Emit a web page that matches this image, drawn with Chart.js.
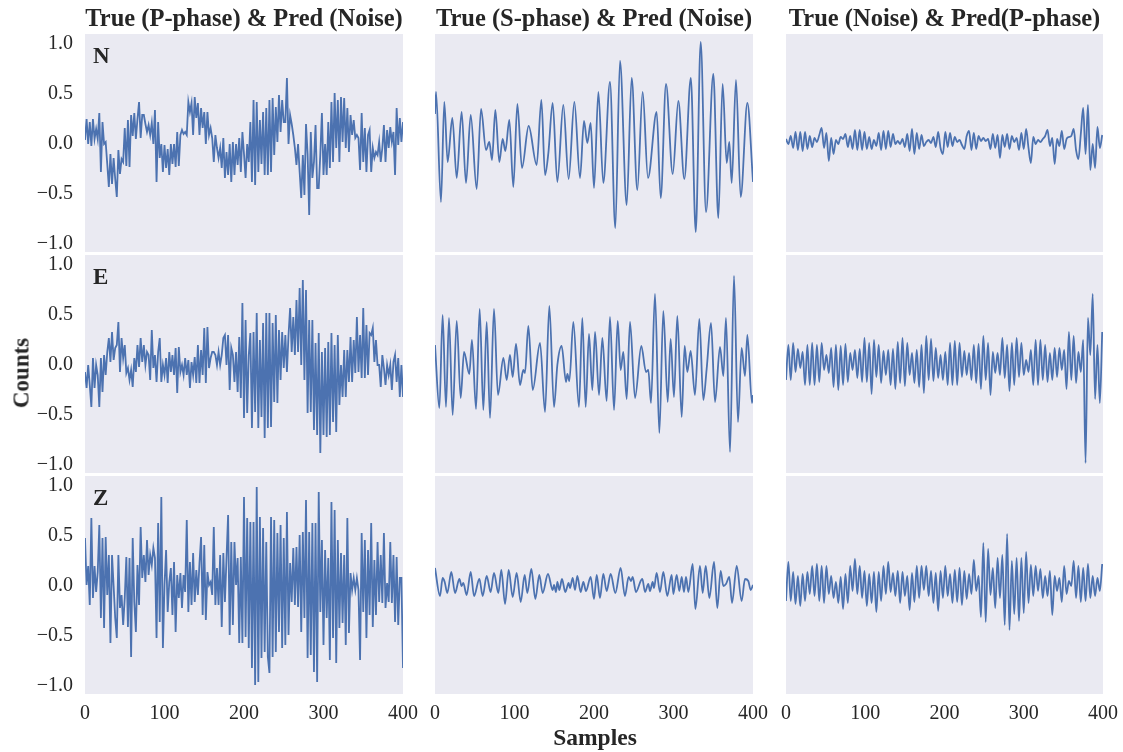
<!DOCTYPE html>
<html>
<head>
<meta charset="utf-8">
<script src="https://cdn.jsdelivr.net/npm/chart.js@4.4.1/dist/chart.umd.min.js"></script>
<style>
  body { margin: 0; background: #fff; width: 1123px; height: 752px; position: relative; overflow: hidden;
         font-family: "Liberation Serif", "DejaVu Serif", serif; color: #262626; }
  .panel { position: absolute; }
  .panel canvas { display: block; }
  .txt { position: absolute; font-weight: bold; line-height: 1; white-space: nowrap; }
  .title { font-size: 24.5px; text-align: center; top: 6px; }
  .tag { font-size: 23px; }
</style>
</head>
<body>
<div class="txt title" style="left:85px;width:318px;">True (P-phase) &amp; Pred (Noise)</div>
<div class="txt title" style="left:435px;width:318px;">True (S-phase) &amp; Pred (Noise)</div>
<div class="txt title" style="left:786px;width:317px;">True (Noise) &amp; Pred(P-phase)</div>
<div class="txt tag" style="left:93px;top:44px;">N</div>
<div class="txt tag" style="left:93px;top:265px;">E</div>
<div class="txt tag" style="left:93px;top:486px;">Z</div>
<div class="txt" style="left:21px;top:373px;font-size:23px;transform:translate(-50%,-50%) rotate(-90deg);">Counts</div>
<div class="txt" style="left:595px;top:738px;font-size:23.5px;transform:translate(-50%,-50%);">Samples</div>

<script>
// axis ticks
const xTicks = [0, 100, 200, 300, 400];
const yTicks = [-1.0, -0.5, 0.0, 0.5, 1.0];
const yMin = -1.08, yMax = 1.1;

// column 1: true P-phase, values every 2 samples (0..400)
const pN = [
  0.04, 0.25, 0.0, 0.22, -0.02, 0.25, 0.05, 0.15, 0.05, 0.31,
  -0.28, 0.22, 0.0, 0.02, -0.2, -0.43, -0.1, -0.4, -0.14, -0.35,
  -0.53, -0.06, -0.3, -0.15, -0.18, 0.16, -0.22, 0.24, -0.23, 0.29,
  0.08, 0.31, 0.05, 0.25, 0.42, 0.06, 0.29, 0.29, 0.2, 0.12,
  0.19, 0.09, 0.21, 0.0, 0.34, -0.38, 0.22, -0.14, 0.0, -0.28,
  -0.01, -0.24, -0.05, -0.31, 0.0, -0.2, 0.0, -0.23, 0.12, -0.22,
  0.09, 0.14, 0.1, 0.12, 0.09, 0.42, 0.32, 0.41, 0.09, 0.47,
  0.26, 0.41, 0.09, 0.36, 0.16, 0.32, 0.0, 0.32, 0.09, 0.16,
  0.06, -0.18, 0.09, -0.04, -0.14, -0.04, -0.24, 0.06, -0.34, -0.08,
  -0.31, 0.0, -0.38, 0.02, -0.31, 0.0, -0.21, 0.06, -0.28, 0.12,
  -0.1, -0.34, 0.0, -0.18, 0.22, -0.38, 0.44, -0.41, 0.42, -0.28,
  0.24, -0.2, 0.32, -0.31, 0.36, -0.31, 0.44, -0.28, 0.46, -0.11,
  0.37, 0.02, 0.49, 0.12, 0.44, 0.22, 0.22, 0.66, 0.0, 0.29,
  0.2, 0.09, -0.04, -0.21, 0.0, -0.28, -0.54, -0.11, -0.51, 0.2,
  -0.1, -0.71, 0.12, -0.34, -0.18, 0.19, -0.44, -0.44, -0.1, 0.31,
  -0.31, 0.0, -0.31, 0.22, -0.24, 0.42, -0.18, 0.51, -0.04, 0.44,
  -0.18, 0.47, 0.02, 0.46, -0.04, 0.36, -0.08, 0.29, 0.09, 0.24,
  0.06, 0.09, 0.06, -0.26, 0.31, -0.18, 0.16, -0.28, 0.09, 0.14,
  -0.28, -0.04, -0.14, -0.08, -0.11, 0.02, -0.18, -0.04, 0.19, -0.18,
  0.14, -0.04, 0.17, 0.02, 0.12, -0.31, 0.36, -0.01, 0.26, 0.02,
  0.22
];
const pE = [
  -0.07, -0.23, 0.0, -0.2, -0.42, 0.07, -0.23, 0.0, -0.1, -0.42,
  0.07, -0.27, 0.1, -0.1, 0.13, 0.27, 0.03, 0.33, 0.05, 0.17,
  0.2, 0.43, -0.07, 0.27, 0.07, 0.2, -0.08, -0.03, -0.15, -0.05,
  -0.22, 0.07, -0.07, 0.2, -0.02, 0.27, 0.03, 0.2, 0.0, 0.13,
  0.1, -0.15, 0.35, -0.03, 0.1, -0.17, 0.13, 0.27, -0.17, 0.0,
  -0.1, 0.07, -0.18, 0.13, -0.07, 0.1, -0.1, 0.17, -0.28, 0.18,
  -0.07, 0.0, -0.1, 0.07, -0.1, 0.05, -0.23, 0.03, -0.1, 0.08,
  -0.18, 0.2, -0.18, 0.15, -0.1, 0.37, -0.18, 0.38, -0.03, 0.07,
  0.13, 0.13, 0.1, 0.0, 0.13, 0.0, 0.1, 0.27, 0.3, 0.0,
  0.3, -0.25, 0.17, 0.1, -0.17, 0.13, -0.27, 0.28, -0.33, 0.62,
  -0.53, 0.45, -0.48, 0.1, 0.32, -0.63, 0.33, -0.47, 0.52, -0.63,
  0.25, -0.52, 0.42, -0.73, 0.52, -0.63, 0.52, -0.62, 0.42, -0.37,
  0.5, -0.38, 0.35, -0.15, 0.33, -0.03, 0.3, -0.07, 0.3, 0.57,
  0.13, 0.48, 0.1, 0.65, 0.13, 0.77, 0.0, 0.85, -0.15, 0.75,
  -0.48, 0.45, -0.47, 0.45, -0.65, 0.22, -0.7, 0.32, -0.88, 0.13,
  -0.7, 0.17, -0.72, 0.23, -0.7, 0.32, -0.57, 0.2, -0.67, 0.3,
  -0.4, 0.0, -0.32, 0.15, -0.32, 0.15, -0.17, 0.28, -0.17, 0.25,
  -0.08, 0.48, -0.07, 0.3, -0.13, 0.57, -0.13, 0.4, -0.1, 0.32,
  0.3, 0.37, 0.03, 0.25, 0.0, 0.0, -0.22, 0.1, -0.03, -0.2,
  0.0, -0.1, 0.0, -0.25, 0.03, 0.1, -0.17, 0.07, -0.32, 0.0,
  -0.32
];
const pZ = [
  0.48, 0.01, 0.2, -0.19, 0.68, -0.12, 0.2, -0.06, 0.14, 0.61,
  -0.32, 0.48, -0.42, 0.49, -0.09, 0.31, -0.57, 0.31, 0.0, -0.32,
  -0.52, 0.31, -0.22, -0.09, -0.39, -0.12, 0.29, -0.41, 0.28, -0.71,
  0.48, -0.16, -0.46, 0.21, -0.19, 0.59, 0.08, 0.31, 0.04, 0.46,
  0.11, 0.31, 0.21, 0.38, 0.28, -0.52, 0.63, -0.36, 0.89, -0.62,
  0.01, 0.36, -0.26, 0.04, 0.18, -0.29, 0.24, -0.46, 0.11, -0.12,
  0.13, -0.22, 0.11, -0.06, 0.66, -0.26, 0.24, -0.19, 0.33, -0.16,
  0.16, -0.09, 0.23, 0.49, -0.29, 0.41, -0.34, 0.14, 0.01, 0.04,
  -0.09, 0.59, -0.19, 0.18, -0.19, 0.31, -0.41, 0.33, -0.16, 0.28,
  0.71, -0.49, 0.44, -0.39, 0.44, 0.01, 0.28, -0.57, 0.29, -0.57,
  0.89, -0.51, 0.68, -0.62, 0.64, -0.82, 0.64, -0.99, 0.99, -0.96,
  0.69, -0.72, 0.58, -0.66, 0.44, -0.71, -0.87, 0.69, -0.71, 0.66,
  -0.66, 0.53, -0.46, 0.61, -0.62, 0.48, -0.59, 0.74, -0.49, 0.23,
  -0.16, 0.38, -0.19, 0.39, -0.21, 0.51, -0.46, 0.54, -0.32, 0.86,
  -0.72, 0.54, -0.69, 0.63, -0.86, 0.63, -0.96, 0.94, -0.26, 0.46,
  -0.59, 0.36, -0.32, 0.28, -0.74, 0.84, -0.52, 0.76, -0.77, 0.46,
  -0.42, 0.33, -0.37, 0.31, -0.59, 0.68, -0.47, 0.13, -0.04, 0.08,
  -0.04, 0.08, -0.04, -0.74, 0.53, -0.26, 0.46, -0.52, 0.36, -0.29,
  0.63, -0.41, 0.26, -0.29, 0.44, -0.16, 0.31, -0.17, 0.53, -0.22,
  0.03, -0.16, 0.44, -0.17, 0.31, -0.36, 0.29, -0.39, 0.08, 0.08,
  -0.82
];

// column 2: true S-phase, turning points (sample, value)
const sNx = [0, 1.3, 7.5, 11.7, 15.9, 21.8, 27.3, 33.5, 39, 44.9, 52.4, 57.9, 64.2, 68.3, 71.7, 75.9, 80.9,
  85.1, 88.5, 93.5, 98.5, 103.6, 109.4, 117.8, 127.9, 133.8, 138.4, 142.6, 148, 153.9, 161.4, 168.1, 175.3,
  182.4, 187.4, 191.6, 195.8, 200, 205.5, 211.7, 220.1, 226.8, 232.7, 241.1, 247.4, 254.5, 261.2, 267.9,
  278.8, 283.9, 290.6, 299, 306.1, 313.6, 321.8, 328, 334.2, 340.9, 350.1, 356.4, 361.8, 366.9, 370.2,
  373.2, 378.6, 384.5, 392.9, 400];
const sNy = [0.3, 0.52, -0.58, 0.42, -0.18, 0.26, -0.34, 0.32, -0.39, 0.29, -0.45, 0.35, -0.06, 0.02, -0.16,
  0.34, -0.18, 0.05, -0.07, 0.24, -0.43, 0.4, -0.24, 0.18, -0.21, 0.44, -0.31, -0.09, 0.41, -0.38, 0.39,
  -0.35, 0.42, -0.34, 0.23, 0.01, 0.21, -0.44, 0.52, -0.39, 0.62, -0.84, 0.83, -0.61, 0.66, -0.46, 0.52,
  -0.34, 0.32, -0.54, 0.6, -0.3, 0.43, -0.35, 0.66, -0.88, 1.02, -0.68, 0.7, -0.74, 0.6, -0.19, 0.02,
  -0.39, 0.64, -0.53, 0.41, -0.38];
const sEx = [0, 5.5, 9.6, 13.8, 17.6, 22.2, 27.3, 32.3, 36.5, 43.2, 46.5, 51.6, 56.2, 60.8, 65, 69.2, 74.2,
  79.2, 86, 90.2, 94.3, 97.7, 101.9, 106.9, 111.1, 113.2, 117.4, 122.9, 132.1, 138.4, 143.8, 149.7, 153.9,
  159.3, 164.8, 166.5, 169, 174, 181.1, 185.3, 189.5, 193.7, 197.9, 201.3, 206.3, 210.5, 215.9, 220.1,
  225.2, 229.8, 233.5, 236.9, 241.1, 245.3, 251.6, 259.5, 265.4, 268.3, 271.7, 276.7, 282.2, 287.2, 292.7,
  296.4, 300.6, 304.8, 310.3, 314, 317.4, 321.6, 327, 332.5, 337.5, 341.7, 347.2, 352.2, 358.5, 362.7, 366,
  371.1, 376.1, 381.1, 385.7, 389.9, 392.9, 398.7, 400];
const sEy = [0.2, -0.43, 0.5, -0.42, 0.47, -0.5, 0.44, -0.33, 0.13, -0.09, 0.25, -0.44, 0.56, -0.45, 0.43,
  -0.53, 0.56, -0.3, 0.07, -0.15, 0.1, -0.12, 0.21, -0.2, -0.05, -0.08, 0.39, -0.25, 0.22, -0.47, 0.59,
  -0.42, 0.0, 0.19, -0.17, -0.09, -0.16, 0.43, -0.42, 0.47, -0.42, 0.31, -0.25, 0.33, -0.3, 0.27, -0.36,
  0.48, -0.45, 0.44, -0.05, 0.13, -0.34, 0.43, -0.33, 0.19, -0.07, -0.05, -0.38, 0.71, -0.68, 0.54, -0.37,
  0.26, -0.32, 0.49, -0.52, 0.19, -0.07, 0.14, -0.3, 0.46, -0.35, -0.04, 0.42, -0.37, 0.18, -0.11, 0.47,
  -0.87, 0.89, -0.57, 0.17, -0.11, 0.3, -0.38, -0.3];
const sZx = [0, 6.3, 9.6, 12.2, 15.5, 20.5, 25.2, 30.6, 33.5, 35.6, 39.8, 44.9, 49.1, 55.8, 60, 65, 70, 74.2,
  79.7, 83.4, 88.1, 92.7, 97.7, 102.7, 107.8, 112.8, 116.1, 121.2, 126.2, 131.2, 135.4, 142.1, 148, 149.7,
  152.2, 153.9, 156.4, 159.7, 163.9, 168.1, 169.8, 173.2, 176.1, 179, 183.2, 186.6, 189.9, 195.8, 200,
  203.4, 207.5, 211.7, 215.9, 221, 226.8, 233.5, 238.9, 243.6, 246.5, 248.6, 252.8, 258.7, 260.8, 264.2,
  268.3, 270.4, 273.8, 275.5, 278.8, 283, 287.2, 292.2, 297.7, 299.8, 304, 307.3, 310.3, 313.2, 315.7,
  318.7, 324.1, 327.5, 333.3, 336.7, 340.5, 345.1, 351, 355.1, 359.3, 362.7, 366, 370.2, 373.6, 379.5,
  385.7, 389.9, 394.1, 397.1, 400];
const sZy = [0.18, -0.1, 0.08, 0.04, -0.07, 0.14, -0.07, 0.07, 0.0, 0.03, -0.09, 0.14, -0.1, 0.07, -0.1, 0.1,
  -0.06, 0.13, -0.07, 0.16, -0.18, 0.16, -0.11, 0.13, -0.16, 0.11, -0.07, 0.17, -0.13, 0.11, -0.07, 0.12,
  -0.04, 0.01, -0.06, 0.04, -0.04, 0.07, -0.06, 0.03, -0.02, 0.08, -0.04, 0.1, -0.06, 0.04, -0.05, 0.09,
  -0.13, 0.11, -0.12, 0.12, -0.05, 0.12, -0.07, 0.18, -0.1, 0.09, 0.05, 0.09, -0.06, 0.05, 0.07, -0.06,
  0.02, -0.05, 0.04, -0.02, 0.13, -0.06, 0.14, -0.1, 0.11, -0.08, 0.11, -0.05, 0.09, -0.06, 0.09, -0.06,
  0.22, -0.23, 0.2, -0.07, 0.2, -0.12, 0.24, -0.22, 0.15, 0.0, 0.02, 0.09, -0.17, 0.2, -0.15, 0.07, 0.05,
  -0.04, 0.01];

// column 3: true noise, values every 3 samples (0..399)
const nN = [
  0.05, 0.0, 0.08, -0.04, 0.12, -0.06, 0.12, -0.07, 0.12, -0.05,
  0.08, -0.03, 0.06, 0.02, 0.09, 0.16, -0.04, 0.11, -0.17, 0.06,
  -0.1, 0.04, 0.0, 0.07, 0.05, 0.1, -0.03, 0.08, -0.05, 0.14,
  -0.06, 0.14, -0.06, 0.12, -0.05, 0.07, -0.05, 0.04, -0.02, 0.11,
  -0.06, 0.13, -0.05, 0.13, -0.03, 0.1, 0.0, 0.03, 0.0, 0.05,
  -0.03, 0.1, -0.07, 0.15, -0.1, 0.11, -0.05, 0.09, -0.02, 0.02,
  0.04, 0.01, 0.07, -0.03, 0.12, -0.04, -0.1, 0.12, -0.03, 0.11,
  -0.02, 0.07, 0.02, 0.04, -0.01, -0.05, 0.08, 0.13, -0.06, 0.11,
  -0.05, 0.08, 0.03, 0.06, 0.03, 0.05, -0.05, 0.1, -0.04, 0.09,
  -0.14, 0.09, -0.03, 0.1, -0.05, 0.08, 0.02, 0.06, -0.06, 0.11,
  -0.05, 0.15, -0.04, -0.19, 0.07, 0.0, 0.04, 0.02, 0.05, 0.08,
  0.14, -0.02, 0.06, -0.2, 0.05, -0.02, 0.13, -0.05, 0.05, 0.07,
  0.08, 0.15, -0.06, -0.15, 0.1, 0.36, -0.1, 0.39, -0.26, 0.0,
  -0.24, 0.17, -0.04, 0.09
];
const nE = [
  -0.15, 0.2, -0.15, 0.22, -0.07, 0.16, -0.03, 0.13, -0.2, 0.2,
  -0.2, 0.22, -0.2, 0.2, -0.17, 0.22, -0.05, 0.1, -0.08, 0.17,
  -0.22, 0.2, -0.25, 0.19, -0.2, 0.21, -0.17, 0.12, -0.05, 0.15,
  -0.13, 0.16, -0.17, 0.27, -0.17, 0.22, -0.29, 0.25, -0.12, 0.2,
  -0.18, 0.14, -0.1, 0.15, -0.2, 0.16, -0.24, 0.23, -0.18, 0.27,
  -0.21, 0.22, -0.1, 0.12, -0.18, 0.15, -0.22, 0.2, -0.28, 0.29,
  -0.15, 0.26, -0.16, 0.17, -0.13, 0.1, -0.15, 0.13, -0.2, 0.22,
  -0.2, 0.24, -0.2, 0.22, -0.12, 0.14, -0.1, 0.12, -0.15, 0.2,
  -0.18, 0.21, -0.24, 0.29, -0.15, 0.22, -0.3, 0.13, -0.08, 0.12,
  -0.1, 0.27, -0.13, 0.2, -0.26, 0.22, -0.2, 0.27, -0.12, 0.22,
  -0.1, 0.05, -0.07, 0.15, -0.2, 0.25, -0.2, 0.25, -0.15, 0.2,
  -0.17, 0.12, -0.15, 0.17, -0.12, 0.17, -0.05, 0.15, -0.24, 0.33,
  -0.15, 0.29, -0.18, 0.13, -0.07, 0.25, -0.98, 0.47, 0.1, 0.71,
  -0.34, 0.2, -0.38, 0.33
];
const nZ = [
  -0.15, 0.24, -0.15, 0.14, -0.18, 0.1, -0.2, 0.12, -0.15, 0.14,
  -0.08, 0.2, -0.1, 0.22, -0.15, 0.2, -0.17, 0.2, -0.08, 0.1,
  -0.12, 0.04, -0.17, 0.09, -0.23, 0.12, -0.17, 0.2, -0.05, 0.27,
  -0.08, 0.2, -0.12, 0.15, -0.2, 0.12, -0.17, 0.14, -0.26, 0.14,
  -0.15, 0.2, -0.08, 0.24, -0.06, 0.13, -0.1, 0.15, -0.17, 0.14,
  -0.1, 0.1, -0.24, 0.13, -0.16, 0.2, -0.12, 0.2, -0.04, 0.2,
  -0.1, 0.15, -0.17, 0.13, -0.25, 0.15, -0.12, 0.2, -0.1, 0.12,
  -0.17, 0.16, -0.16, 0.18, -0.19, 0.15, -0.13, 0.12, -0.08, 0.26,
  -0.05, 0.1, -0.31, 0.43, -0.36, 0.37, -0.09, 0.18, -0.22, 0.28,
  -0.12, 0.31, -0.39, 0.52, -0.44, 0.25, -0.28, 0.28, -0.35, 0.28,
  -0.27, 0.34, -0.17, 0.21, -0.1, 0.2, -0.05, 0.17, -0.12, 0.1,
  -0.1, 0.15, -0.29, 0.1, -0.05, 0.08, -0.16, 0.2, -0.08, 0.05,
  0.0, 0.25, -0.12, 0.2, -0.16, 0.18, -0.15, 0.22, -0.12, 0.1,
  -0.1, 0.08, -0.05, 0.22
];

const LINE = '#4c72b0';
const BG = '#eaeaf2';
const INK = '#262626';
const COL_LEFT = [85, 435, 786];
const COL_WIDTH = [318, 318, 317];
const ROW_TOP = [34, 255, 476];
const ROW_HEIGHT = 218;
const PAD = 30, Y_AXIS_W = 50, X_AXIS_H = 40;

function everyStep(ys, step) {
    return ys.map((y, i) => ({ x: i * step, y: y }));
}
function turning(xs, ys) {
    return xs.slice(0, ys.length).map((x, i) => ({ x: x, y: ys[i] }));
}

// Fill the plot area like seaborn's darkgrid background
const plotBackground = {
    id: 'plotBackground',
    beforeDraw(chart) {
        const { ctx, chartArea: a } = chart;
        ctx.save();
        ctx.fillStyle = BG;
        ctx.fillRect(a.left, a.top, a.right - a.left, a.bottom - a.top);
        ctx.restore();
    }
};

const tickFont = { family: '"Liberation Serif", "DejaVu Serif", serif', size: 20 };

function makePanel(row, col, points, smooth) {
    const showY = col === 0;
    const showX = row === 2;
    const w = COL_WIDTH[col] + 2 * PAD + (showY ? Y_AXIS_W : 0);
    const h = ROW_HEIGHT + 2 * PAD + (showX ? X_AXIS_H : 0);

    const box = document.createElement('div');
    box.className = 'panel';
    box.style.left = (COL_LEFT[col] - PAD - (showY ? Y_AXIS_W : 0)) + 'px';
    box.style.top = (ROW_TOP[row] - PAD) + 'px';
    const canvas = document.createElement('canvas');
    canvas.width = w;
    canvas.height = h;
    canvas.style.width = w + 'px';
    canvas.style.height = h + 'px';
    box.appendChild(canvas);
    document.body.insertBefore(box, document.body.firstChild);

    new Chart(canvas, {
        type: 'line',
        data: {
            datasets: [{
                data: points,
                borderColor: LINE,
                borderWidth: 1.8,
                pointRadius: 0,
                fill: false,
                tension: 0,
                cubicInterpolationMode: smooth ? 'monotone' : 'default'
            }]
        },
        options: {
            responsive: false,
            animation: false,
            events: [],
            layout: { padding: PAD },
            plugins: { legend: { display: false }, tooltip: { enabled: false } },
            scales: {
                x: {
                    type: 'linear',
                    min: 0,
                    max: 400,
                    display: showX,
                    grid: { display: false, drawTicks: false },
                    border: { display: false },
                    afterBuildTicks: s => { s.ticks = xTicks.map(v => ({ value: v })); },
                    afterFit: s => { s.height = showX ? X_AXIS_H : 0; },
                    ticks: { font: tickFont, color: INK, padding: 8, autoSkip: false, maxRotation: 0,
                             callback: v => String(v) }
                },
                y: {
                    min: yMin,
                    max: yMax,
                    display: showY,
                    grid: { display: false, drawTicks: false },
                    border: { display: false },
                    afterBuildTicks: s => { s.ticks = yTicks.map(v => ({ value: v })); },
                    afterFit: s => { s.width = showY ? Y_AXIS_W : 0; },
                    ticks: { font: tickFont, color: INK, padding: 12,
                             callback: v => (v < 0 ? '\u2212' : '') + Math.abs(v).toFixed(1) }
                }
            }
        },
        plugins: [plotBackground]
    });
}

makePanel(0, 0, everyStep(pN, 2), false);
makePanel(1, 0, everyStep(pE, 2), false);
makePanel(2, 0, everyStep(pZ, 2), false);
makePanel(0, 1, turning(sNx, sNy), true);
makePanel(1, 1, turning(sEx, sEy), true);
makePanel(2, 1, turning(sZx, sZy), true);
makePanel(0, 2, everyStep(nN, 3), true);
makePanel(1, 2, everyStep(nE, 3), true);
makePanel(2, 2, everyStep(nZ, 3), true);
</script>
</body>
</html>
